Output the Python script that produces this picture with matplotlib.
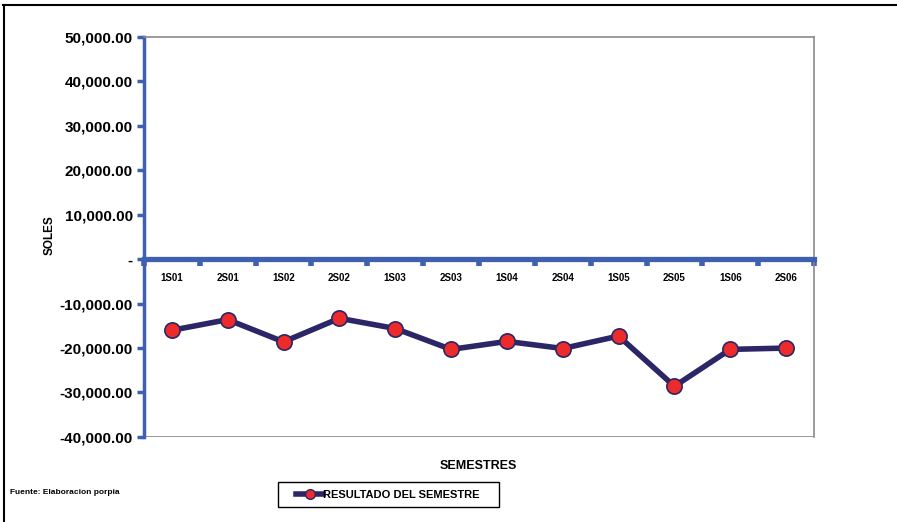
import matplotlib
matplotlib.use("Agg")
import matplotlib.pyplot as plt
from matplotlib.lines import Line2D
from matplotlib.patches import Rectangle
from matplotlib.ticker import FuncFormatter, FixedLocator

semestres = ["1S01", "2S01", "1S02", "2S02", "1S03", "2S03",
             "1S04", "2S04", "1S05", "2S05", "1S06", "2S06"]
resultado = [-16000, -13600, -18600, -13300, -15600, -20300,
             -18500, -20100, -17300, -28600, -20300, -20000]
y_ticks = [-40000, -30000, -20000, -10000, 0, 10000, 20000, 30000, 40000, 50000]

plt.rcParams["font.family"] = ["Liberation Sans", "DejaVu Sans"]

axis_blue = "#3F5FB0"
navy = "#2B2767"
red = "#EE2B2B"
frame_grey = "#8A8A8A"

W, H = 897, 522
fig = plt.figure(figsize=(W / 100, H / 100), dpi=100)
ax = fig.add_axes([0.1605, 0.163, 0.747, 0.766])

x = list(range(len(semestres)))
ax.plot(x, resultado, color=navy, lw=4, marker="o", ms=11,
        mfc=red, mec=navy, mew=1.2, zorder=5)

ax.set_xlim(-0.5, len(semestres) - 0.5)
ax.set_ylim(-40000, 50000)

# value axis
ax.yaxis.set_major_locator(FixedLocator(y_ticks))
ax.yaxis.set_major_formatter(FuncFormatter(lambda v, p: "-" if v == 0 else f"{v:,.2f}"))
ax.tick_params(axis="y", direction="out", length=5, width=2.5, color=axis_blue,
               labelsize=11, pad=3)
for lab in ax.get_yticklabels():
    lab.set_fontweight("bold")

# category axis drawn along zero
ax.spines["bottom"].set_position(("data", 0))
ax.spines["bottom"].set_color(axis_blue)
ax.spines["bottom"].set_linewidth(3.8)
ax.spines["bottom"].set_zorder(4)
ax.spines["left"].set_color(axis_blue)
ax.spines["left"].set_linewidth(2.5)
for side in ("top", "right"):
    ax.spines[side].set_color(frame_grey)
    ax.spines[side].set_linewidth(1.2)
ax.axhline(-40000, color=frame_grey, lw=1.2, zorder=1)

ax.set_xticks([i + 0.5 for i in range(-1, len(semestres))])
ax.set_xticklabels([])
ax.set_xticks(x, minor=True)
ax.set_xticklabels(semestres, minor=True)
ax.tick_params(axis="x", which="major", direction="out", length=5, width=4, color=axis_blue)
ax.tick_params(axis="x", which="minor", length=0, labelsize=7, pad=10)
for lab in ax.get_xticklabels(minor=True):
    lab.set_fontweight("bold")

fig.text(50 / W, 1 - 235 / H, "SOLES", rotation=90, ha="center", va="center",
         fontsize=8.5, fontweight="bold")
fig.text(478 / W, 1 - 466 / H, "SEMESTRES", ha="center", va="center",
         fontsize=9, fontweight="bold")
fig.text(10 / W, 1 - 492 / H, "Fuente: Elaboracion porpia", ha="left", va="center",
         fontsize=6, fontweight="bold")

# legend box with the series key inside
fig.add_artist(Rectangle((278 / W, 1 - 507 / H), 221 / W, 25 / H,
                         transform=fig.transFigure, fill=False,
                         edgecolor="black", lw=1.0))
handle = Line2D([], [], color=navy, lw=4, marker="o", ms=7, mfc=red, mec=navy)
fig.legend([handle], ["RESULTADO DEL SEMESTRE"], loc="center",
           bbox_to_anchor=(388 / W, 1 - 494.5 / H), frameon=False,
           handlelength=2.4, handletextpad=0.0, borderpad=0.0,
           prop={"weight": "bold", "size": 8})

# outer frame of the chart
fig.add_artist(Line2D([0.003, 1.0], [0.99, 0.99], color="black", lw=1.5, transform=fig.transFigure))
fig.add_artist(Line2D([0.004, 0.004], [0.0, 0.99], color="black", lw=1.5, transform=fig.transFigure))

fig.savefig("out.png", dpi=100)
